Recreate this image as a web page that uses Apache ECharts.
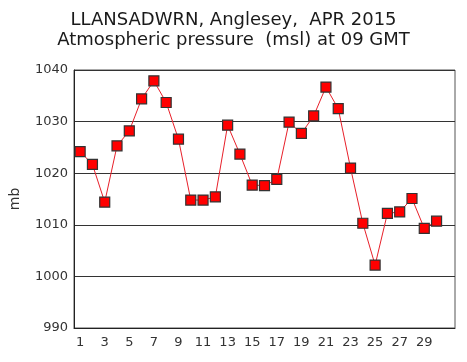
<!DOCTYPE html>
<html><head><meta charset="utf-8">
<script src="https://cdn.jsdelivr.net/npm/echarts@6/dist/echarts.min.js"></script>
<style>html,body{margin:0;padding:0;background:#fff}#c{width:467px;height:362px}</style>
</head><body><div id="c"></div>
<script>
const days = Array.from({length: 31}, (_, i) => String(i + 1));
const pressure = [1024.2, 1021.7, 1014.4, 1025.3, 1028.2, 1034.4, 1037.9, 1033.7, 1026.6, 1014.8,
  1014.8, 1015.4, 1029.3, 1023.7, 1017.7, 1017.6, 1018.8, 1029.9, 1027.7, 1031.1,
  1036.7, 1032.5, 1021.0, 1010.3, 1002.2, 1012.2, 1012.5, 1015.1, 1009.3, 1010.7];
const titleLines = ['LLANSADWRN, Anglesey,  APR 2015', 'Atmospheric pressure  (msl) at 09 GMT'];
const yName = 'mb';

const chart = echarts.init(document.getElementById('c'), null, {renderer: 'canvas'});
chart.setOption({
  animation: false,
  backgroundColor: '#fff',
  title: {
    text: titleLines.join('\n'),
    left: 'center', top: 5,
    textStyle: {fontFamily: 'DejaVu Sans', fontSize: 18, fontWeight: 'normal', color: '#1a1a1a', lineHeight: 20}
  },
  grid: {left: 74, right: 12, top: 70, bottom: 34, show: true, borderColor: '#555', borderWidth: 1},
  xAxis: {
    type: 'category', data: days, boundaryGap: true,
    axisLine: {lineStyle: {color: '#222', width: 1}},
    axisTick: {show: false},
    axisLabel: {interval: 1, fontFamily: 'DejaVu Sans', fontSize: 13, color: '#333', margin: 8,
      formatter: v => (v === '31' ? '' : v)}
  },
  yAxis: {
    type: 'value', min: 990, max: 1040, interval: 10,
    name: yName, nameLocation: 'middle', nameGap: 52, nameRotate: 90,
    nameTextStyle: {fontFamily: 'DejaVu Sans', fontSize: 14, color: '#333'},
    axisLine: {show: true, lineStyle: {color: '#222', width: 1}},
    axisTick: {show: false},
    axisLabel: {fontFamily: 'DejaVu Sans', fontSize: 13, color: '#333', margin: 6,
      formatter: v => String(v)},
    splitLine: {lineStyle: {color: '#333', width: 1}}
  },
  series: [{
    type: 'line', data: pressure,
    symbol: 'rect', symbolSize: 10, showAllSymbol: true,
    lineStyle: {color: '#e8202a', width: 1},
    itemStyle: {color: '#ff0000', borderColor: '#333', borderWidth: 1.2}
  }]
});
</script></body></html>
